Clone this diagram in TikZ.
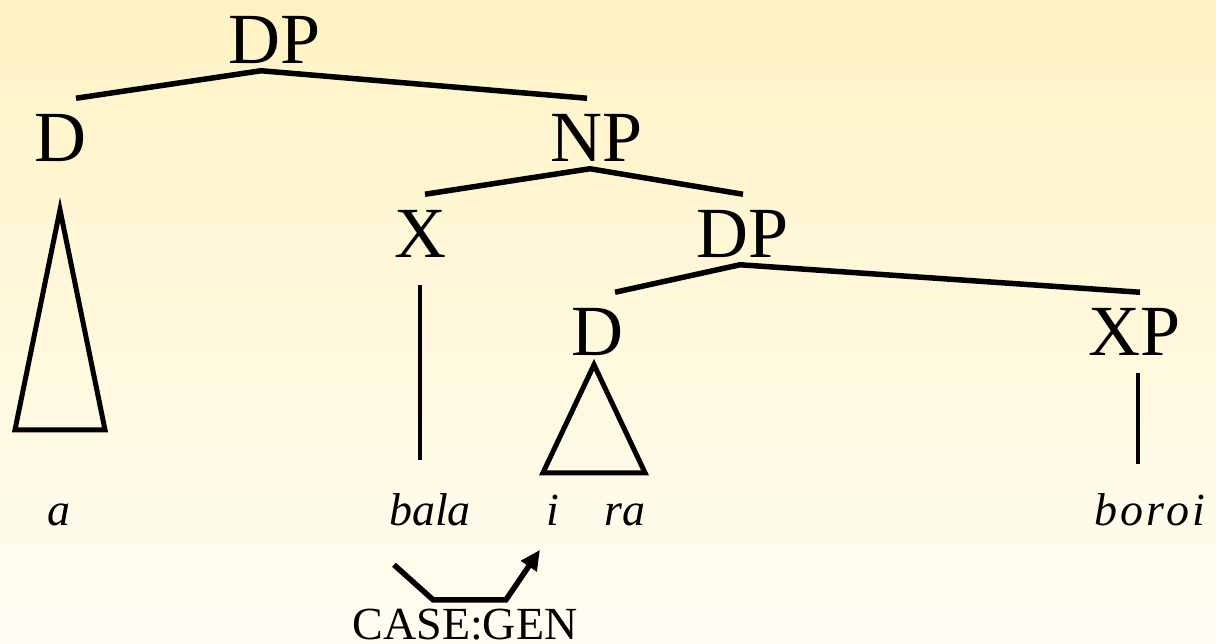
\documentclass[tikz,border=0pt]{standalone}
\usepackage{fontspec}
\setmainfont{Liberation Serif}
\newfontfamily\treefont{Liberation Serif}
\usepackage{tikz}
\usetikzlibrary{arrows.meta}
\definecolor{bgtop}{RGB}{255,243,196}
\definecolor{bgbot}{RGB}{255,253,243}

\begin{document}
\begin{tikzpicture}[x=1pt, y=-1pt, line width=5.5pt,
  cat/.style = {font=\treefont\fontsize{72}{80}\selectfont, anchor=base, inner sep=0pt, text height=60pt, text depth=5pt},
  word/.style = {font=\treefont\fontsize{46}{52}\selectfont\itshape, anchor=base, inner sep=0pt, text height=35pt, text depth=10pt},
  roof/.style = {line width=5pt, line join=miter},
  stem/.style = {line width=3.5pt},
  casearrow/.style = {line width=5.5pt, -{Triangle[length=20pt,width=18pt]}}]
\useasboundingbox (0,0) rectangle (1216,643);
\shade[top color=bgtop, bottom color=bgbot] (0,0) rectangle (1216,643);

\node[cat] (DPa) at (275,63) {DP};
\node[cat] (Da) at (60,161) {D};
\node[cat] (NP) at (597,161) {NP};
\node[cat] (X) at (420,257) {X};
\node[cat] (DPb) at (743,257) {DP};
\node[cat] (Db) at (597,355) {D};
\node[cat] (XP) at (1135,355) {XP};

\node[word] (wa) at (59,525) {a};
\node[word] (bala) at (430,525) {bala};
\node[word] (wi) at (553,525) {i};
\node[word] (ra) at (625,525) {ra};
\node[word] (boroi) at (1150,525) {\addfontfeature{LetterSpace=7}boroi};
\node[font=\treefont\fontsize{46}{50}\selectfont, anchor=base, inner sep=0pt] (gen) at (465,639) {CASE:GEN};

\draw ([xshift=16pt]Da.north) -- ([xshift=-14pt]DPa.south) -- ([xshift=-10pt]NP.north);
\draw ([xshift=5pt]X.north) -- ([xshift=-7pt]NP.south) -- (DPb.north);
\draw ([xshift=18pt]Db.north) -- ([xshift=-3pt]DPb.south) -- ([xshift=5pt]XP.north);

\draw[roof] ([yshift=-41pt]Da.south) -- ++(-45,220) -- ++(90,0) -- cycle;
\draw[roof] ([yshift=-2pt,xshift=-3pt]Db.south) -- ++(-51,108) -- ++(102,0) -- cycle;
\draw[stem] ([yshift=-20pt]X.south) -- ([yshift=27pt]X.south |- bala.north);
\draw[line width=4.5pt] ([yshift=-10pt,xshift=3pt]XP.south) -- ([yshift=23pt,xshift=3pt]XP.south |- boroi.north);

\draw[casearrow] ([xshift=-36pt,yshift=-27pt]bala.south) -- ++(39,35) -- ++(73,0) -- ([xshift=-13pt,yshift=-12pt]wi.south);
\end{tikzpicture}
\end{document}
